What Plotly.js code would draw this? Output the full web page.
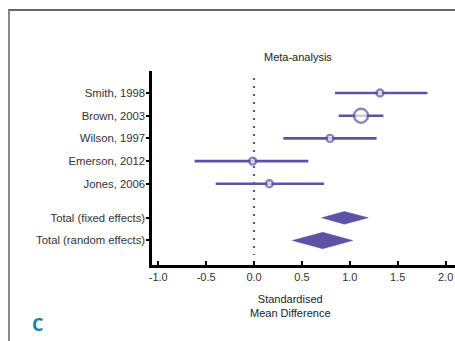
<!DOCTYPE html>
<html><head><meta charset="utf-8">
<script src="https://cdn.plot.ly/plotly-3.0.1.min.js"></script>
<style>html,body{margin:0;padding:0;background:#fff}#chart{width:455px;height:341px}</style>
</head><body><div id="chart"></div>
<script>
// Study data
const studies = ["Smith, 1998", "Brown, 2003", "Wilson, 1997", "Emerson, 2012", "Jones, 2006"];
const studyPos = [0, 1, 2, 3, 4];
const smd = [1.315, 1.117, 0.793, -0.014, 0.16];
const ciLow = [0.846, 0.884, 0.306, -0.62, -0.40];
const ciHigh = [1.81, 1.35, 1.28, 0.567, 0.73];
const markerSizes = [7, 14, 7, 7, 7];

// Totals
const totals = ["Total (fixed effects)", "Total (random effects)"];
const totalPos = [5.5, 6.5];
const totalMid = [0.943, 0.717];
const totalLow = [0.706, 0.40];
const totalHigh = [1.193, 1.03];

// X tick labels
const xTickVals = [-1, -0.5, 0, 0.5, 1, 1.5, 2];
const xTickText = ["-1.0", "-0.5", "0.0", "0.5", "1.0", "1.5", "2.0"];

const tickVals = studyPos.concat(totalPos);
const tickText = studies.concat(totals);

const purple = '#5b53a3';
const diamondHalf = [0.28, 0.36];

const traces = [];
traces.push({
  type: 'scatter', mode: 'markers',
  x: smd, y: studyPos,
  error_x: {type: 'data', symmetric: false,
    array: smd.map((v, i) => ciHigh[i] - v),
    arrayminus: smd.map((v, i) => v - ciLow[i]),
    width: 0, thickness: 2.6, color: purple},
  marker: {size: markerSizes, color: '#ffffff', symbol: 'circle',
    line: {color: purple, width: 2.4}},
  hoverinfo: 'skip', showlegend: false
});
totals.forEach((t, i) => {
  const p = totalPos[i], h = diamondHalf[i];
  traces.push({
    type: 'scatter', mode: 'lines', fill: 'toself',
    x: [totalLow[i], totalMid[i], totalHigh[i], totalMid[i], totalLow[i]],
    y: [p, p - h, p, p + h, p],
    line: {color: purple, width: 0.5}, fillcolor: purple,
    hoverinfo: 'skip', showlegend: false
  });
});

const L = 152, R = 455, T = 71, B = 265;
const px = v => (v - L) / (R - L);
const py = v => (B - v) / (B - T);

const layout = {
  width: 455, height: 341,
  margin: {l: L, r: 455 - R, t: T, b: 341 - B, pad: 0},
  paper_bgcolor: '#ffffff', plot_bgcolor: '#ffffff',
  font: {family: 'Liberation Sans, Arial, sans-serif', size: 11, color: '#333'},
  xaxis: {
    range: [-1.065, 2.098], tickvals: xTickVals, ticktext: xTickText,
    ticks: 'inside', ticklen: 4, tickwidth: 2, tickcolor: '#000',
    showline: true, linewidth: 2.6, linecolor: '#000', showgrid: false, zeroline: false,
    tickfont: {size: 11, color: '#333'}
  },
  yaxis: {
    range: [7.58, -0.97], tickvals: tickVals, ticktext: tickText,
    ticks: 'outside', ticklen: 3, tickwidth: 2, tickcolor: '#000',
    ticklabelstandoff: -1,
    showline: true, linewidth: 2.6, linecolor: '#000', showgrid: false, zeroline: false,
    tickfont: {size: 11.3, color: '#333'}
  },
  shapes: [
    {type: 'line', xref: 'x', yref: 'y', x0: 0, x1: 0, y0: -0.66, y1: 7.14,
     line: {color: purple, width: 2.2, dash: '2px,6px'}, layer: 'below'},
    {type: 'line', xref: 'paper', yref: 'paper', x0: px(8), x1: px(460), y0: py(10), y1: py(10),
     line: {color: '#333', width: 1.5}},
    {type: 'line', xref: 'paper', yref: 'paper', x0: px(9), x1: px(9), y0: py(10), y1: py(345),
     line: {color: '#888', width: 2}}
  ],
  annotations: [
    {text: 'Meta-analysis', xref: 'paper', yref: 'paper', x: px(298), y: py(57),
     showarrow: false, xanchor: 'center', yanchor: 'middle', font: {size: 11, color: '#222'}},
    {text: 'Standardised<br>Mean Difference', xref: 'paper', yref: 'paper', x: px(290), y: py(306),
     showarrow: false, xanchor: 'center', yanchor: 'middle', font: {size: 11, color: '#222'}},
    {text: '<b>C</b>', xref: 'paper', yref: 'paper', x: px(37), y: py(324),
     showarrow: false, xanchor: 'center', yanchor: 'middle',
     font: {family: 'Open Sans, sans-serif', size: 18, color: '#1b7f9b'}}
  ]
};

Plotly.newPlot('chart', traces, layout, {displayModeBar: false, staticPlot: true});
</script></body></html>
